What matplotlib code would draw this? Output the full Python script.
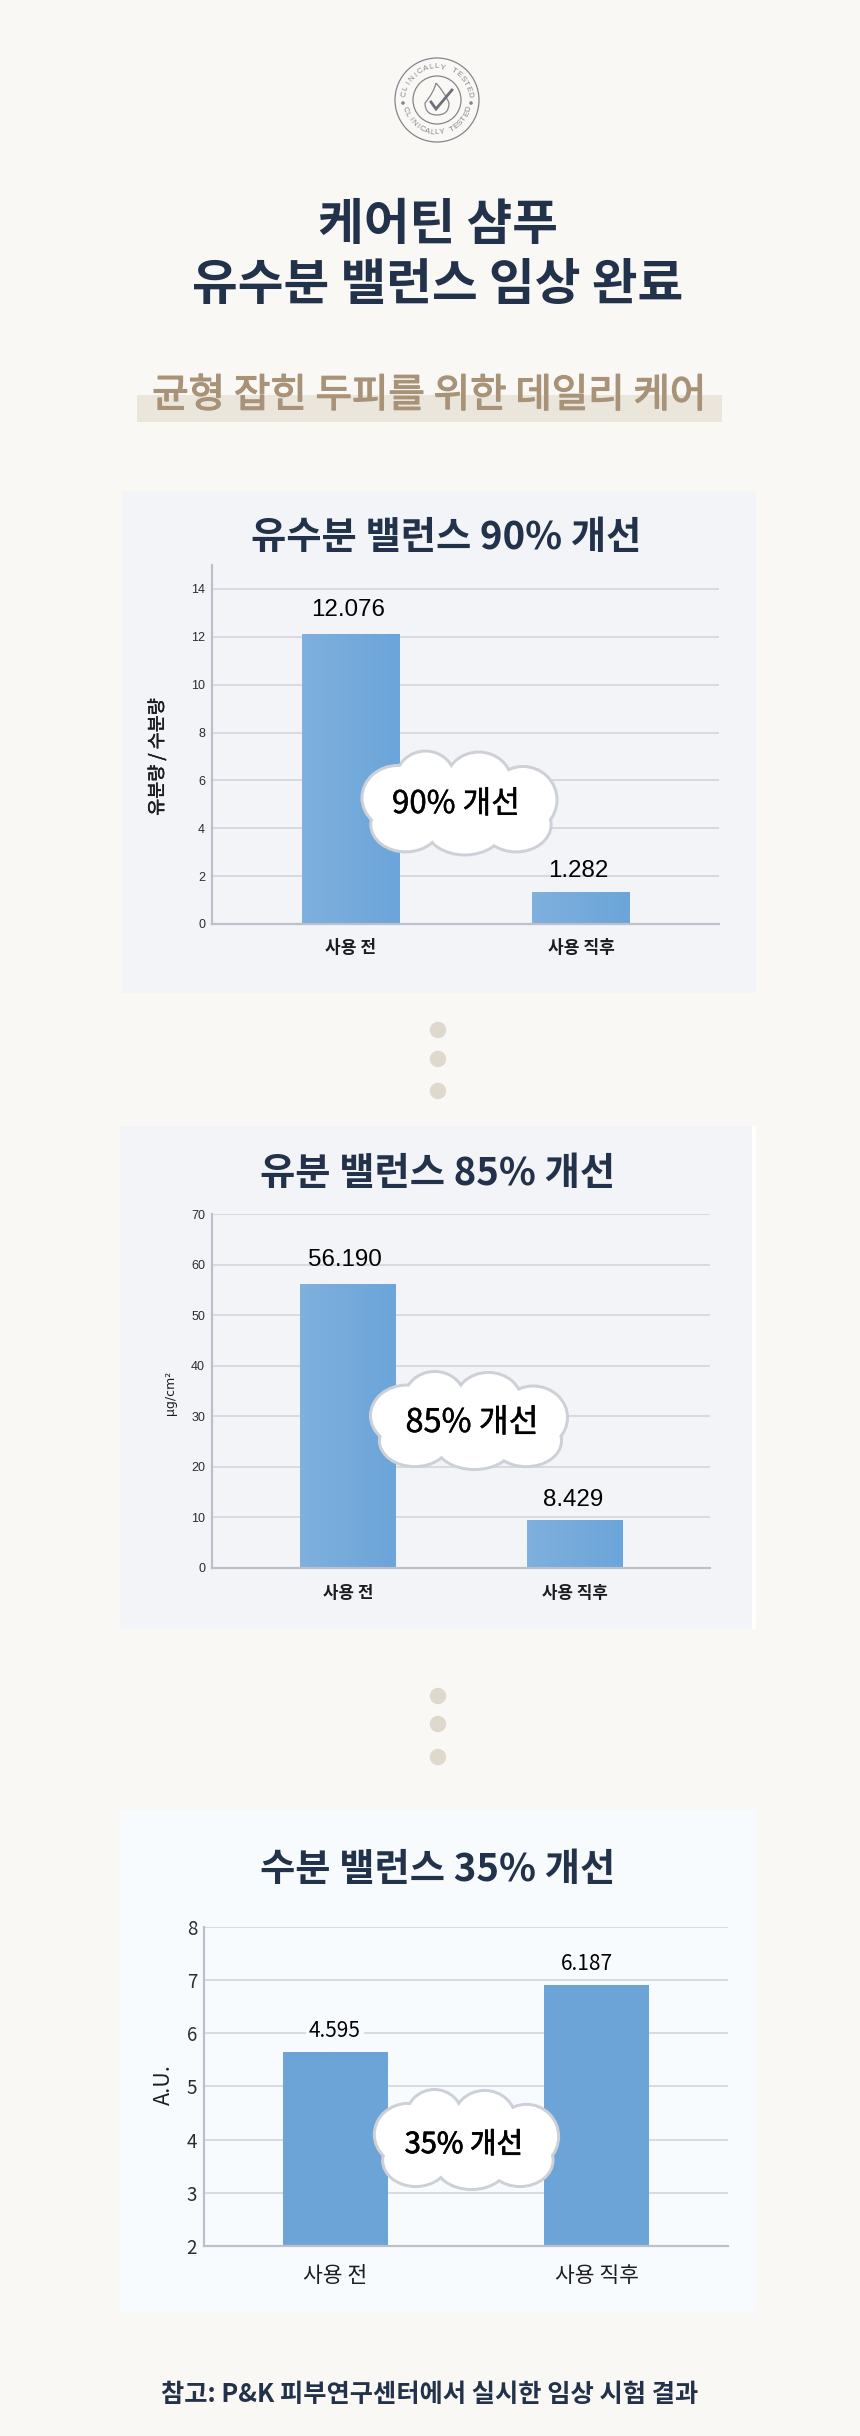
import numpy as np
import matplotlib
matplotlib.use('Agg')
import matplotlib.pyplot as plt
import matplotlib.patheffects as pe
from matplotlib.colors import LinearSegmentedColormap
from matplotlib.patches import Circle, Ellipse, PathPatch, Rectangle
from matplotlib.path import Path

KR = 'Noto Sans CJK KR'
NAVY = '#22324b'
W, H = 860, 2436

# chart data, bar heights do not match the printed labels in the source
categories = ['사용 전', '사용 직후']

oil_water_bars = [12.076, 1.31]
oil_water_labels = ['12.076', '1.282']
oil_water_ticks = [0, 2, 4, 6, 8, 10, 12, 14]

oil_bars = [56.19, 9.45]
oil_labels = ['56.190', '8.429']
oil_ticks = [0, 10, 20, 30, 40, 50, 60, 70]

water_bars = [5.63, 6.89]
water_labels = ['4.595', '6.187']
water_ticks = [2, 3, 4, 5, 6, 7, 8]

# cloud lobes: centre x, centre y, radius x, radius y, all as fraction of cloud box
lobes = [(-0.31, -0.05, 0.175, 0.30), (-0.17, -0.22, 0.145, 0.27),
         (0.10, -0.20, 0.16, 0.28), (0.325, -0.03, 0.165, 0.31),
         (-0.27, 0.21, 0.17, 0.25), (0.03, 0.24, 0.19, 0.25),
         (0.29, 0.21, 0.17, 0.25), (0.0, 0.02, 0.34, 0.36)]

fig = plt.figure(figsize=(W / 100, H / 100), dpi=100, facecolor='#f9f8f4')

bg = fig.add_axes([0, 0, 1, 1], zorder=0)
bg.set_xlim(0, W)
bg.set_ylim(H, 0)
bg.axis('off')

top = fig.add_axes([0, 0, 1, 1], zorder=5)
top.set_xlim(0, W)
top.set_ylim(H, 0)
top.axis('off')
top.patch.set_alpha(0)


def thick(width):
    return [pe.withStroke(linewidth=width, foreground='black')]


def draw_logo(cx, cy):
    col = '#85858f'
    top.add_patch(Circle((cx, cy), 42, fill=False, ec=col, lw=0.9))
    top.add_patch(Circle((cx, cy), 24, fill=False, ec=col, lw=0.9))
    word = 'CLINICALLY TESTED'
    for ch, a in zip(word, np.linspace(-80, 80, len(word))):
        t = np.radians(a)
        top.text(cx + 33 * np.sin(t), cy - 33 * np.cos(t), ch, fontsize=5.8,
                 family='Liberation Sans', color=col, rotation=-a, rotation_mode='anchor',
                 ha='center', va='center')
    for ch, a in zip(word, np.linspace(-74, 74, len(word))):
        t = np.radians(a)
        top.text(cx + 33 * np.sin(t), cy + 33 * np.cos(t), ch, fontsize=5.8,
                 family='Liberation Sans', color=col, rotation=a, rotation_mode='anchor',
                 ha='center', va='center')
    for sx in (-1, 1):
        top.add_patch(Circle((cx + sx * 34, cy + 3), 1.1, color=col))
    drop = Path([(cx - 1, cy - 17), (cx - 3, cy - 8), (cx - 12, cy + 3),
                 (cx - 12, cy + 15), (cx, cy + 15),
                 (cx + 12, cy + 15), (cx + 12, cy + 3),
                 (cx + 8, cy - 7), (cx - 1, cy - 17)],
                [Path.MOVETO] + [Path.CURVE3] * 8)
    top.add_patch(PathPatch(drop, fill=False, ec=col, lw=0.9))
    top.plot([cx - 6, cx - 1, cx + 15], [cy + 2, cy + 9, cy - 10], color='#6f6f7a', lw=2.0,
             solid_joinstyle='miter')


def draw_cloud(cx, cy, w, h, label, tx, ty, size, stroke=0.3):
    for x, y, rx, ry in lobes:
        top.add_patch(Ellipse((cx + x * w, cy + y * h), 2 * rx * w + 6, 2 * ry * h + 6,
                              color='#cdd1d7', lw=0, zorder=3))
    for x, y, rx, ry in lobes:
        top.add_patch(Ellipse((cx + x * w, cy + y * h), 2 * rx * w, 2 * ry * h,
                              color='white', lw=0, zorder=4))
    top.text(tx, ty, label, fontsize=size, family=KR, color='black',
             ha='center', va='center', zorder=6, path_effects=thick(stroke))


def draw_chart(box, centres, bar_w, ylim, ticks, bars, colors, tick_font, tick_size,
               cat_y, cat_size, cat_weight):
    left, right, ytop, ybot = box
    ax = fig.add_axes([left / W, 1 - ybot / H, (right - left) / W, (ybot - ytop) / H], zorder=1)
    ax.patch.set_alpha(0)
    step = centres[1] - centres[0]
    xlim = ((left - centres[0]) / step, (right - centres[0]) / step)
    ax.set_yticks(ticks)
    ax.set_xticks([])
    ax.tick_params(axis='y', length=0, pad=5, labelsize=tick_size, labelcolor='#2c2c30')
    for lab in ax.get_yticklabels():
        lab.set_family(tick_font)
    ax.grid(axis='y', color='#d5d8df', lw=1.3)
    ax.set_axisbelow(True)
    for s in ('top', 'right'):
        ax.spines[s].set_visible(False)
    for s in ('left', 'bottom'):
        ax.spines[s].set_color('#bcc0cc')
        ax.spines[s].set_linewidth(1.6)
    width = bar_w / step
    cmap = LinearSegmentedColormap.from_list('bar_ramp', colors)
    grad = np.linspace(0, 1, 64).reshape(1, -1)
    for i, v in enumerate(bars):
        ax.bar(i, v - ylim[0], width=width, bottom=ylim[0], color=colors[1], zorder=2)
        # soft left to right shading
        ax.imshow(grad, cmap=cmap, aspect='auto', zorder=2.1,
                  extent=[i - width / 2, i + width / 2, ylim[0], v])
    ax.set_xlim(*xlim)
    ax.set_ylim(*ylim)
    for c, name in zip(centres, categories):
        top.text(c, cat_y, name, family=KR, fontsize=cat_size, weight=cat_weight,
                 color='#1d1d20', ha='center', va='center')
    return ax


# header
draw_logo(437, 100)
top.text(438, 225, '케어틴 샴푸', family=KR, weight='bold', fontsize=35.8, color=NAVY,
         ha='center', va='center')
top.text(438, 285, '유수분 밸런스 임상 완료', family=KR, weight='bold', fontsize=35.8, color=NAVY,
         ha='center', va='center')
bg.add_patch(Rectangle((137, 395), 585, 27, color='#ebe6dc', lw=0))
top.text(429, 396, '균형 잡힌 두피를 위한 데일리 케어', family=KR, fontsize=28.5,
         color='#a89379', ha='center', va='center',
         path_effects=[pe.withStroke(linewidth=1.0, foreground='#a89379')])

# panels
bg.add_patch(Rectangle((122, 491), 634, 502, color='#f2f4f7', lw=0))
bg.add_patch(Rectangle((120, 1126), 636, 503, color='white', lw=0))
bg.add_patch(Rectangle((120, 1126), 632, 503, color='#f2f4f7', lw=0))
bg.add_patch(Rectangle((120, 1810), 636, 503, color='#f8fbfe', lw=0))

# separators
for y in (1030, 1059, 1091, 1696, 1724, 1757):
    bg.add_patch(Circle((438, y), 8.2, color='#dfd8cc', lw=0))

ramp = ['#7fb0de', '#6ba5d9']

# chart 1
top.text(446, 538, '유수분 밸런스 90% 개선', family=KR, weight='bold', fontsize=27.6, color=NAVY,
         ha='center', va='center')
draw_chart((212, 719, 565, 924), (350.5, 581), 97.5, (0, 15), oil_water_ticks, oil_water_bars,
           ramp, 'Liberation Sans', 9, 948, 12.3, 'bold')
top.text(157, 757, '유분량 / 수분량', family=KR, fontsize=13.3, rotation=90,
         color='#1d1d20', ha='center', va='center', path_effects=thick(0.3))
top.text(348, 610, oil_water_labels[0], family='Liberation Sans', fontsize=17.4, ha='center', va='center')
top.text(578.5, 871, oil_water_labels[1], family='Liberation Sans', fontsize=17.4, ha='center', va='center')
draw_cloud(459, 803, 197, 103, '90% 개선', 456, 804, 22.5)

# chart 2
top.text(437.5, 1174, '유분 밸런스 85% 개선', family=KR, weight='bold', fontsize=27.6, color=NAVY,
         ha='center', va='center')
draw_chart((212, 710, 1214.3, 1568), (348, 574.5), 95.5, (0, 70), oil_ticks, oil_bars,
           ramp, 'Liberation Sans', 9, 1593, 12.1, 'bold')
top.text(171, 1393, 'μg/cm²', family='DejaVu Sans', fontsize=9, rotation=90, color='#1d1d20',
         ha='center', va='center')
top.text(345, 1260, oil_labels[0], family='Liberation Sans', fontsize=17.4, ha='center', va='center')
top.text(573, 1500, oil_labels[1], family='Liberation Sans', fontsize=17.4, ha='center', va='center')
draw_cloud(468.5, 1420.5, 199, 97, '85% 개선', 472, 1423, 23.4)

# chart 3
top.text(437.5, 1870, '수분 밸런스 35% 개선', family=KR, weight='bold', fontsize=27.6, color=NAVY,
         ha='center', va='center')
draw_chart((204, 728, 1926.7, 2246), (335.5, 596.5), 105, (2, 8), water_ticks, water_bars,
           ['#6ca4d8', '#6ca4d8'], KR, 13.5, 2276, 15.5, 'regular')
top.text(164, 2085, 'A.U.', family=KR, fontsize=15.5, rotation=90, color='#1d1d20',
         ha='center', va='center')
top.text(335, 2031, water_labels[0], family=KR, fontsize=15, ha='center', va='center',
         bbox=dict(fc='#f8fbfe', ec='none', pad=2))
top.text(587, 1964, water_labels[1], family=KR, fontsize=15, ha='center', va='center')
draw_cloud(466, 2139.5, 186, 99, '35% 개선', 464, 2145, 20.8, stroke=0.6)

top.text(429.5, 2395, '참고: P&K 피부연구센터에서 실시한 임상 시험 결과', family=KR, weight='bold',
         fontsize=18.2, color=NAVY, ha='center', va='center')

fig.savefig('out.png', dpi=100, facecolor=fig.get_facecolor())
